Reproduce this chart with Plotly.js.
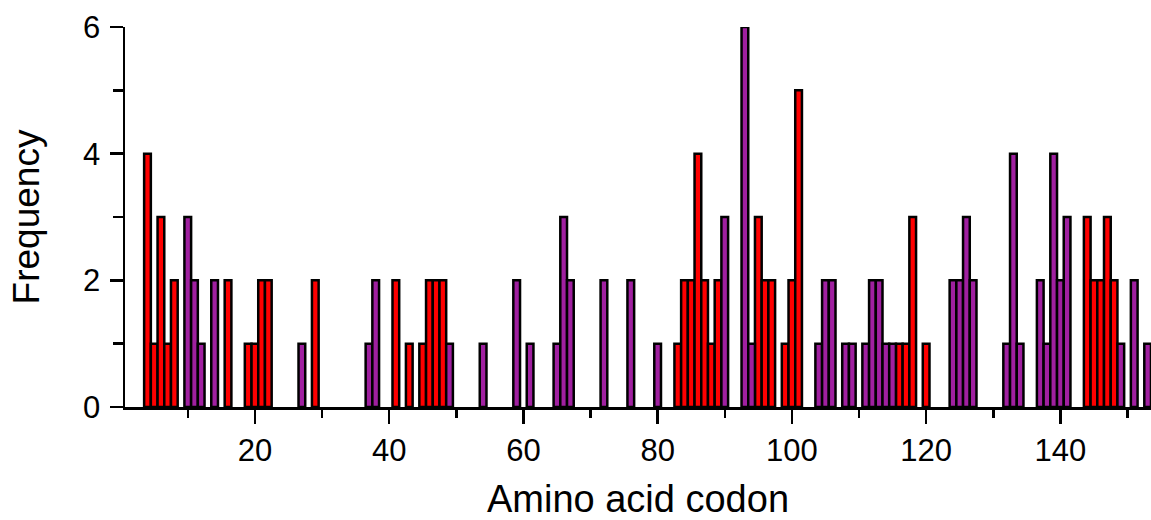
<!DOCTYPE html>
<html>
<head>
<meta charset="utf-8">
<script src="https://cdn.plot.ly/plotly-3.0.1.min.js"></script>
<style>html,body{margin:0;padding:0;background:#fff;}#chart{width:1151px;height:520px;}</style>
</head>
<body>
<div id="chart"></div>
<script>
// Red series (codon positions and frequency)
const redCodons = [4,5,6,7,8,16,19,20,21,22,29,41,43,45,46,47,48,83,84,85,86,87,88,89,95,96,97,99,100,101,116,117,118,120,144,145,146,147,148];
const redFreq   = [4,1,3,1,2,2,1,1,2,2,2,2,1,1,2,2,2,1,2,2,4,2,1,2,3,2,2,1,2,5,1,1,3,1,3,2,2,3,2];
// Purple series
const purpleCodons = [10,11,12,14,27,37,38,49,54,59,61,65,66,67,72,76,80,90,93,94,104,105,106,108,109,111,112,113,114,115,124,125,126,127,132,133,134,137,138,139,140,141,149,151,153];
const purpleFreq   = [3,2,1,2,1,1,2,1,1,2,1,1,3,2,2,2,1,3,6,1,1,2,2,1,1,1,2,2,1,1,2,2,3,2,1,4,1,2,1,4,2,3,1,2,1];
const xTitle = "Amino acid codon";
const yTitle = "Frequency";

const font = "Liberation Sans, Arial, sans-serif";
const traces = [
  {type:"bar", x:redCodons, y:redFreq, width:1,
   marker:{color:"#FF0000", line:{color:"#000", width:2.5}}, hoverinfo:"x+y"},
  {type:"bar", x:purpleCodons, y:purpleFreq, width:1,
   marker:{color:"#A020A0", line:{color:"#000", width:2.5}}, hoverinfo:"x+y"}
];
const layout = {
  width:1151, height:520,
  margin:{l:125, r:0, t:27, b:113},
  paper_bgcolor:"#fff", plot_bgcolor:"#fff",
  showlegend:false, barmode:"overlay", bargap:0,
  font:{family:font, color:"#000"},
  xaxis:{
    range:[0.65,153.5], showgrid:false, zeroline:false,
    showline:true, linecolor:"#000", linewidth:2.5,
    ticks:"outside", ticklen:14, tickwidth:2.5, tickcolor:"#000",
    tick0:0, dtick:20, tickfont:{size:31, family:font},
    minor:{dtick:10, ticks:"outside", ticklen:8, tickwidth:2.5, tickcolor:"#000", showgrid:false},
    title:{text:xTitle, font:{size:38, family:font}, standoff:29}
  },
  yaxis:{
    range:[0,6], showgrid:false, zeroline:false,
    showline:true, linecolor:"#000", linewidth:2.5,
    ticks:"outside", ticklen:13, tickwidth:2.5, tickcolor:"#000",
    tick0:0, dtick:2, tickfont:{size:31, family:font},
    ticklabelstandoff:3,
    minor:{dtick:1, ticks:"outside", ticklen:10, tickwidth:2.5, tickcolor:"#000", showgrid:false},
    title:{text:yTitle, font:{size:37, family:font}, standoff:32}
  }
};
Plotly.newPlot("chart", traces, layout, {displayModeBar:false, staticPlot:true});
</script>
</body>
</html>
